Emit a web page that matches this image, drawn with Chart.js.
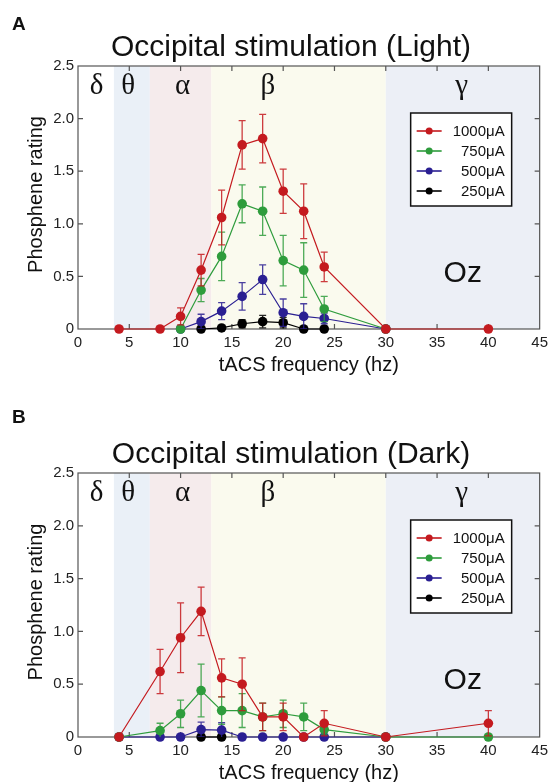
<!DOCTYPE html>
<html>
<head>
<meta charset="utf-8">
<script src="https://cdn.jsdelivr.net/npm/chart.js@4.4.1/dist/chart.umd.min.js"></script>
<style>
body { margin: 0; background: #fff; }
.panel { position: absolute; left: 0; width: 553px; height: 391px; }
</style>
</head>
<body>
<div class="panel" style="top:0"><canvas id="chartA" width="553" height="391"></canvas></div>
<div class="panel" style="top:391px"><canvas id="chartB" width="553" height="391"></canvas></div>
<script>
// frequency bands
const bandNames = ['δ', 'θ', 'α', 'β', 'γ'];
const bandStarts = [0, 3.5, 7, 13, 30];
const bandEnds = [3.5, 7, 13, 30, 45];
const bandLabelX = [1.8, 4.9, 10.2, 18.5, 37.4];

const seriesLabels = ['1000μA', '750μA', '500μA', '250μA'];

// A: light
const lightFreq1000 = [4, 8, 10, 12, 14, 16, 18, 20, 22, 24, 30, 40];
const light1000 = [0, 0, 0.12, 0.56, 1.06, 1.75, 1.81, 1.31, 1.12, 0.59, 0, 0];
const light1000Err = [0, 0, 0.08, 0.15, 0.26, 0.23, 0.23, 0.21, 0.26, 0.14, 0, 0];
const lightFreq750 = [10, 12, 14, 16, 18, 20, 22, 24, 30];
const light750 = [0, 0.37, 0.69, 1.19, 1.12, 0.65, 0.56, 0.19, 0];
const light750Err = [0, 0.11, 0.23, 0.18, 0.23, 0.24, 0.26, 0.12, 0];
const lightFreq500 = [10, 12, 14, 16, 18, 20, 22, 24, 30];
const light500 = [0, 0.07, 0.17, 0.31, 0.47, 0.155, 0.12, 0.10, 0];
const light500Err = [0, 0.07, 0.08, 0.13, 0.14, 0.13, 0.12, 0.05, 0];
const lightFreq250 = [12, 14, 16, 18, 20, 22, 24];
const light250 = [0, 0.01, 0.05, 0.07, 0.06, 0, 0];
const light250Err = [0, 0.02, 0.04, 0.06, 0.05, 0, 0];

// B: dark
const darkFreq1000 = [4, 8, 10, 12, 14, 16, 18, 20, 22, 24, 30, 40];
const dark1000 = [0, 0.62, 0.94, 1.19, 0.56, 0.50, 0.19, 0.19, 0, 0.13, 0, 0.13];
const dark1000Err = [0, 0.21, 0.33, 0.23, 0.18, 0.25, 0.13, 0.13, 0, 0.12, 0, 0.12];
const darkFreq750 = [4, 8, 10, 12, 14, 16, 18, 20, 22, 24, 30, 40];
const dark750 = [0, 0.06, 0.22, 0.44, 0.25, 0.25, 0.19, 0.22, 0.19, 0.07, 0, 0];
const dark750Err = [0, 0.07, 0.13, 0.25, 0.13, 0.16, 0.13, 0.13, 0.13, 0.05, 0, 0];
const darkFreq500 = [4, 8, 10, 12, 14, 16, 18, 20, 22, 24, 30];
const dark500 = [0, 0, 0, 0.07, 0.065, 0, 0, 0, 0, 0, 0];
const dark500Err = [0, 0, 0, 0.07, 0.07, 0, 0, 0, 0, 0, 0];
const darkFreq250 = [12, 14];
const dark250 = [0, 0];
const dark250Err = [0, 0];

const seriesColors = ['#c41a1f', '#2e9c3c', '#2a1f92', '#000000'];
const bandColors = [null, '#eaf0f7', '#f5ebec', '#fafaee', '#eceff6'];

function toPoints(xs, ys) {
    return xs.map((x, i) => ({x: x, y: ys[i]}));
}

const panelPlugin = {
    id: 'panel',
    beforeDraw(chart) {
        const {ctx, chartArea: a, scales: {x, y}} = chart;
        ctx.save();
        bandStarts.forEach((s, i) => {
            if (!bandColors[i]) return;
            const x0 = x.getPixelForValue(s), x1 = x.getPixelForValue(bandEnds[i]);
            ctx.fillStyle = bandColors[i];
            ctx.fillRect(x0, a.top, x1 - x0, a.bottom - a.top);
        });
        ctx.fillStyle = '#111';
        ctx.textAlign = 'center';
        ctx.textBaseline = 'middle';
        ctx.font = '29px "Liberation Serif", serif';
        bandNames.forEach((n, i) => ctx.fillText(n, x.getPixelForValue(bandLabelX[i]), a.top + 20));
        ctx.font = '30px "Liberation Sans", Arial, sans-serif';
        ctx.fillText('Oz', x.getPixelForValue(37.5), y.getPixelForValue(0.53));
        ctx.restore();
    },
    beforeDatasetsDraw(chart) {
        const {ctx, chartArea: a, scales: {x, y}} = chart;
        ctx.save();
        ctx.strokeStyle = '#555';
        ctx.lineWidth = 1.2;
        ctx.strokeRect(a.left, a.top, a.right - a.left, a.bottom - a.top);
        ctx.beginPath();
        for (let v = 5; v < 45; v += 5) {
            const px = x.getPixelForValue(v);
            ctx.moveTo(px, a.bottom); ctx.lineTo(px, a.bottom - 5);
            ctx.moveTo(px, a.top); ctx.lineTo(px, a.top + 5);
        }
        for (let v = 0.5; v < 2.5; v += 0.5) {
            const py = y.getPixelForValue(v);
            ctx.moveTo(a.left, py); ctx.lineTo(a.left + 5, py);
            ctx.moveTo(a.right, py); ctx.lineTo(a.right - 5, py);
        }
        ctx.stroke();
        ctx.restore();
    },
    beforeDatasetDraw(chart, args) {
        const {ctx, chartArea: a, scales: {x, y}} = chart;
        const ds = chart.data.datasets[args.index];
        ctx.save();
        ctx.beginPath();
        ctx.rect(a.left, a.top, a.right - a.left, a.bottom - a.top);
        ctx.clip();
        ctx.strokeStyle = ds.borderColor;
        ctx.globalAlpha = 0.85;
        ctx.lineWidth = 1.3;
        ctx.beginPath();
        ds.data.forEach((p, i) => {
            const e = ds.errors[i];
            if (!e) return;
            const px = x.getPixelForValue(p.x);
            const y0 = y.getPixelForValue(p.y - e), y1 = y.getPixelForValue(p.y + e);
            ctx.moveTo(px, y0); ctx.lineTo(px, y1);
            ctx.moveTo(px - 3.5, y0); ctx.lineTo(px + 3.5, y0);
            ctx.moveTo(px - 3.5, y1); ctx.lineTo(px + 3.5, y1);
        });
        ctx.stroke();
        ctx.restore();
    },
    afterDraw(chart) {
        const {ctx, chartArea: a} = chart;
        const o = chart.options.plugins.panel;
        const cx = (a.left + a.right) / 2;
        ctx.save();
        ctx.fillStyle = '#111';
        ctx.textAlign = 'center';
        ctx.textBaseline = 'alphabetic';
        ctx.font = '30px "Liberation Sans", Arial, sans-serif';
        ctx.fillText(o.title, 291, a.top - 10);
        ctx.font = '20px "Liberation Sans", Arial, sans-serif';
        ctx.fillText('tACS frequency (hz)', cx, a.bottom + 42);
        ctx.save();
        ctx.translate(36, (a.top + a.bottom) / 2 - 3);
        ctx.rotate(-Math.PI / 2);
        ctx.textBaseline = 'middle';
        ctx.fillText('Phosphene rating', 0, 0);
        ctx.restore();
        ctx.textAlign = 'left';
        ctx.font = 'bold 19px "Liberation Sans", Arial, sans-serif';
        ctx.fillText(o.letter, 12, o.letterY);

        // legend
        const lx = a.right - 129, ly = a.top + 47;
        ctx.fillStyle = '#fff';
        ctx.fillRect(lx, ly, 101, 93);
        ctx.strokeStyle = '#111';
        ctx.lineWidth = 1.5;
        ctx.strokeRect(lx, ly, 101, 93);
        ctx.font = '15px "Liberation Sans", Arial, sans-serif';
        ctx.textAlign = 'right';
        ctx.textBaseline = 'middle';
        chart.data.datasets.forEach((ds, i) => {
            const ry = ly + 18 + i * 20;
            ctx.strokeStyle = ds.borderColor;
            ctx.lineWidth = 1.6;
            ctx.beginPath();
            ctx.moveTo(lx + 6, ry); ctx.lineTo(lx + 31, ry);
            ctx.stroke();
            ctx.fillStyle = ds.borderColor;
            ctx.beginPath();
            ctx.arc(lx + 18.5, ry, 3.5, 0, Math.PI * 2);
            ctx.fill();
            ctx.fillStyle = '#111';
            ctx.fillText(ds.label, lx + 94, ry + 1);
        });
        ctx.restore();
    }
};

function makeChart(id, series, title, letter, letterY, topPad, bottomSpace) {
    new Chart(document.getElementById(id).getContext('2d'), {
        type: 'line',
        data: {
            datasets: series.map((s, i) => ({
                label: seriesLabels[i],
                data: toPoints(s[0], s[1]),
                errors: s[2],
                borderColor: seriesColors[i],
                backgroundColor: seriesColors[i],
                borderWidth: 1.2,
                pointRadius: 4.8,
                pointBorderWidth: 0,
                tension: 0,
                clip: false
            }))
        },
        options: {
            responsive: false,
            animation: false,
            devicePixelRatio: 1,
            layout: {padding: {top: topPad, right: 11, left: 0, bottom: 0}},
            plugins: {
                legend: {display: false},
                tooltip: {enabled: false},
                panel: {title: title, letter: letter, letterY: letterY}
            },
            scales: {
                x: {
                    type: 'linear', min: 0, max: 45,
                    grid: {display: false, drawTicks: false},
                    border: {display: false},
                    ticks: {stepSize: 5, autoSkip: false, maxRotation: 0, padding: 5, color: '#222',
                        font: {family: '"Liberation Sans", Arial, sans-serif', size: 15}},
                    afterFit(scale) { scale.height = bottomSpace; }
                },
                y: {
                    min: 0, max: 2.5,
                    grid: {display: false, drawTicks: false},
                    border: {display: false},
                    ticks: {stepSize: 0.5, padding: 4, color: '#222',
                        font: {family: '"Liberation Sans", Arial, sans-serif', size: 15},
                        callback: v => v === 0 ? '0' : v.toFixed(1)},
                    afterFit(scale) { scale.width = 78; }
                }
            }
        },
        plugins: [panelPlugin]
    });
}

makeChart('chartA', [
    [lightFreq1000, light1000, light1000Err],
    [lightFreq750, light750, light750Err],
    [lightFreq500, light500, light500Err],
    [lightFreq250, light250, light250Err]
], 'Occipital stimulation (Light)', 'A', 30, 66, 62);

makeChart('chartB', [
    [darkFreq1000, dark1000, dark1000Err],
    [darkFreq750, dark750, dark750Err],
    [darkFreq500, dark500, dark500Err],
    [darkFreq250, dark250, dark250Err]
], 'Occipital stimulation (Dark)', 'B', 32, 82, 45);
</script>
</body>
</html>
